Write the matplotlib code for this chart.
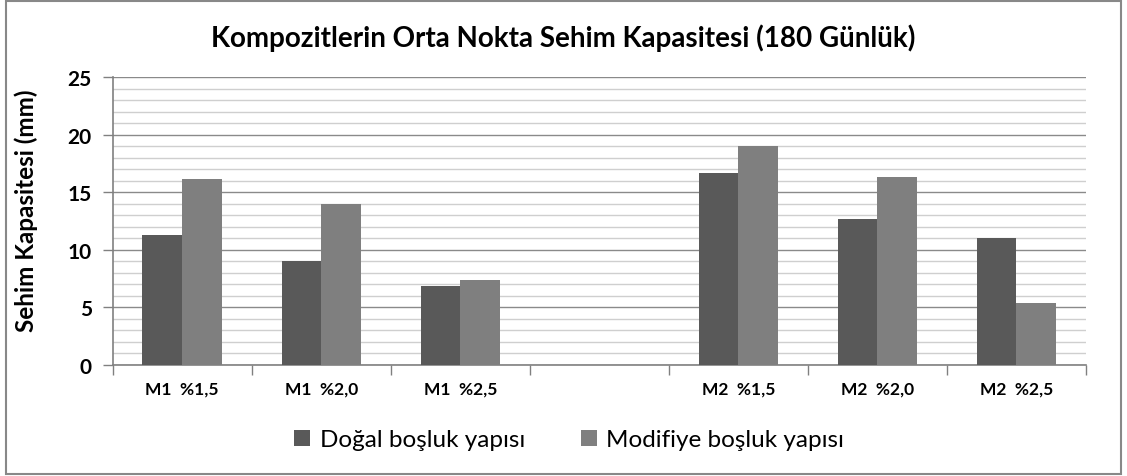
import matplotlib
matplotlib.use("Agg")
import matplotlib.pyplot as plt
from matplotlib.patches import Rectangle
from matplotlib.ticker import MultipleLocator
import numpy as np

categories = ["M1  %1,5", "M1  %2,0", "M1  %2,5", "", "M2  %1,5", "M2  %2,0", "M2  %2,5"]
dogal = [11.3, 9.0, 6.9, np.nan, 16.7, 12.7, 11.0]
modifiye = [16.2, 14.0, 7.4, np.nan, 19.0, 16.3, 5.4]
series_names = ["Doğal boşluk yapısı", "Modifiye boşluk yapısı"]
title = "Kompozitlerin Orta Nokta Sehim Kapasitesi (180 Günlük)"
ylabel = "Sehim Kapasitesi (mm)"

plt.rcParams['font.family'] = ['Lato', 'DejaVu Sans']

fig = plt.figure(figsize=(11.27, 4.77), dpi=100)
ax = fig.add_axes([112.7/1127, 1-366/477, (1086-112.7)/1127, (366-78.3)/477])

x = np.arange(len(categories))
w = 1/3.5
ax.bar(x - w/2, dogal, w, color="#595959", label=series_names[0], zorder=3)
ax.bar(x + w/2, modifiye, w, color="#7f7f7f", label=series_names[1], zorder=3)

ax.set_xlim(-0.5, len(categories) - 0.5)
ax.set_ylim(0, 25)
ax.yaxis.set_major_locator(MultipleLocator(5))
ax.yaxis.set_minor_locator(MultipleLocator(1))
ax.grid(True, which='major', axis='y', color='#8a8a8a', linewidth=1.0, zorder=1)
ax.grid(True, which='minor', axis='y', color='#cfcfcf', linewidth=1.0, zorder=0)
ax.tick_params(axis='y', which='minor', length=0)
ax.tick_params(axis='y', which='major', length=7, width=1, color='#808080', labelsize=15, pad=8)

ax.set_xticks(np.arange(len(categories) + 1) - 0.5)
ax.set_xticklabels([])
ax.set_xticks(x, minor=True)
ax.set_xticklabels(categories, minor=True, fontsize=12.5, fontweight='bold')
ax.tick_params(axis='x', which='major', length=7, width=1, color='#808080', direction='out')
ax.tick_params(axis='x', which='minor', length=0, pad=11)

for lbl in ax.get_yticklabels():
    lbl.set_fontweight('bold')

for s in ['top', 'right']:
    ax.spines[s].set_visible(False)
for s in ['left', 'bottom']:
    ax.spines[s].set_color('#808080')
    ax.spines[s].set_linewidth(1.2)

ax.set_ylabel(ylabel, fontsize=17.5, fontweight='bold')
ax.yaxis.set_label_coords(-0.077, 0.54)

fig.text(0.5, 1-38/477, title, ha='center', va='center', fontsize=20, fontweight='bold')

leg = fig.legend(loc='center', bbox_to_anchor=(0.505, 1-441/477), ncol=2, frameon=False,
                 fontsize=17.5, handlelength=0.65, handleheight=0.65, handletextpad=0.4,
                 columnspacing=2.3)

fig.patches.append(Rectangle((6/1127, 1-475/477), (1121-6)/1127, (475-2)/477,
                             transform=fig.transFigure, fill=False, edgecolor='#888888',
                             linewidth=1.5))

fig.savefig("out.png", dpi=100)
